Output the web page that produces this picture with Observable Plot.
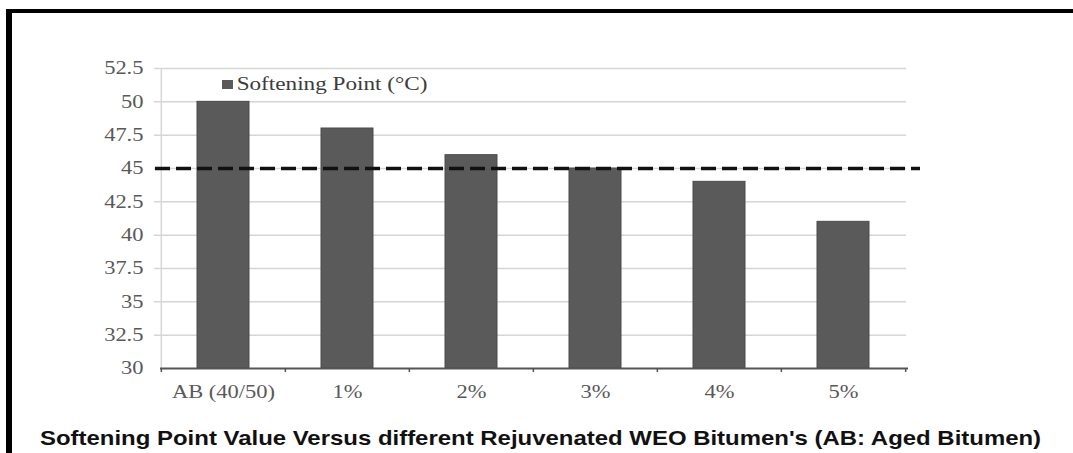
<!DOCTYPE html>
<html><head><meta charset="utf-8">
<script src="https://cdn.jsdelivr.net/npm/d3@7"></script>
<script src="https://cdn.jsdelivr.net/npm/@observablehq/plot@0.6"></script>
<style>
html,body{margin:0;padding:0;background:#fff;}
#wrap{position:relative;width:1073px;height:453px;overflow:hidden;background:#fff;}
#chart{position:absolute;left:0;top:0;}
.frame-top{position:absolute;left:6px;top:9px;width:1067px;height:4px;background:#000;}
.frame-left{position:absolute;left:6px;top:9px;width:6px;height:444px;background:#000;}
#legend{position:absolute;left:222px;top:73px;font-family:"Liberation Serif";font-size:19px;color:#3c3c3c;display:flex;align-items:center;white-space:nowrap;transform-origin:left center;transform:scaleX(1.22);}
#legend .sw{display:inline-block;width:9px;height:9px;background:#5a5a5a;margin-right:3px;}
#caption{position:absolute;left:40px;top:426px;font-family:"Liberation Sans";font-weight:bold;font-size:21px;color:#111;white-space:nowrap;transform-origin:left top;transform:scaleX(1.14);}
</style></head><body>
<div id="wrap">
  <div id="chart"></div>
  <div class="frame-top"></div><div class="frame-left"></div>
  <div id="legend"><span class="sw"></span><span id="legendText"></span></div>
  <div id="caption"></div>
</div>
<script>
const categories = ["AB (40/50)", "1%", "2%", "3%", "4%", "5%"];
const softeningPoint = [50, 48, 46, 45, 44, 41];
const specLimit = 45;
const yTicks = [30, 32.5, 35, 37.5, 40, 42.5, 45, 47.5, 50, 52.5];
const legendLabel = "Softening Point (°C)";
const captionText = "Softening Point Value Versus different Rejuvenated WEO Bitumen's (AB: Aged Bitumen)";

const data = categories.map((c, i) => ({category: c, value: softeningPoint[i]}));
const W = 1073, H = 410, mL = 160, mR = 167;
const step = (W - mL - mR) / categories.length;
const gridColor = "#d6d6d6", labelColor = "#595959", axisColor = "#555555";

const plot = Plot.plot({
  width: W, height: H,
  marginLeft: mL, marginRight: mR, marginTop: 68, marginBottom: 42,
  style: {fontFamily: "Liberation Serif", fontSize: "18px", background: "transparent", overflow: "visible"},
  x: {domain: categories, paddingInner: 0.58, paddingOuter: 0.29, axis: null},
  y: {domain: [30, 52.5], axis: null},
  marks: [
    Plot.gridY(yTicks.filter(d => d > 30), {stroke: gridColor, strokeOpacity: 1, strokeWidth: 1.5, insetLeft: -6}),
    Plot.ruleX([categories[0]], {x: d => d, dx: -step / 2, y1: 30, y2: 52.5, stroke: gridColor, strokeWidth: 1.5}),
    Plot.axisY(yTicks, {tickSize: 0, tickPadding: 17, fill: labelColor, label: null, tickFormat: d => String(d)}),
    Plot.barY(data, {x: "category", y1: 30, y2: "value", fill: "#5a5a5a", stroke: "#4a4a4a"}),
    Plot.ruleY([30], {stroke: axisColor, strokeWidth: 2, insetRight: -2}),
    Plot.ruleX(categories, {x: d => d, dx: -step / 2, y1: 30, y2: 29.7, stroke: axisColor, strokeWidth: 1.5}),
    Plot.ruleX([categories[categories.length - 1]], {x: d => d, dx: step / 2, y1: 30, y2: 29.7, stroke: axisColor, strokeWidth: 1.5}),
    Plot.axisX({tickSize: 0, tickPadding: 17, fill: labelColor, label: null}),
    Plot.ruleY([specLimit], {stroke: "#111", strokeWidth: 3.5, strokeDasharray: "15,6", insetLeft: -5, insetRight: -14})
  ]
});
plot.querySelectorAll("text").forEach(t => {
  const tr = t.getAttribute("transform");
  if (tr) t.setAttribute("transform", tr + " scale(1.25,1)");
});
document.getElementById("chart").appendChild(plot);
document.getElementById("legendText").textContent = legendLabel;
document.getElementById("caption").textContent = captionText;
</script>
</body></html>
